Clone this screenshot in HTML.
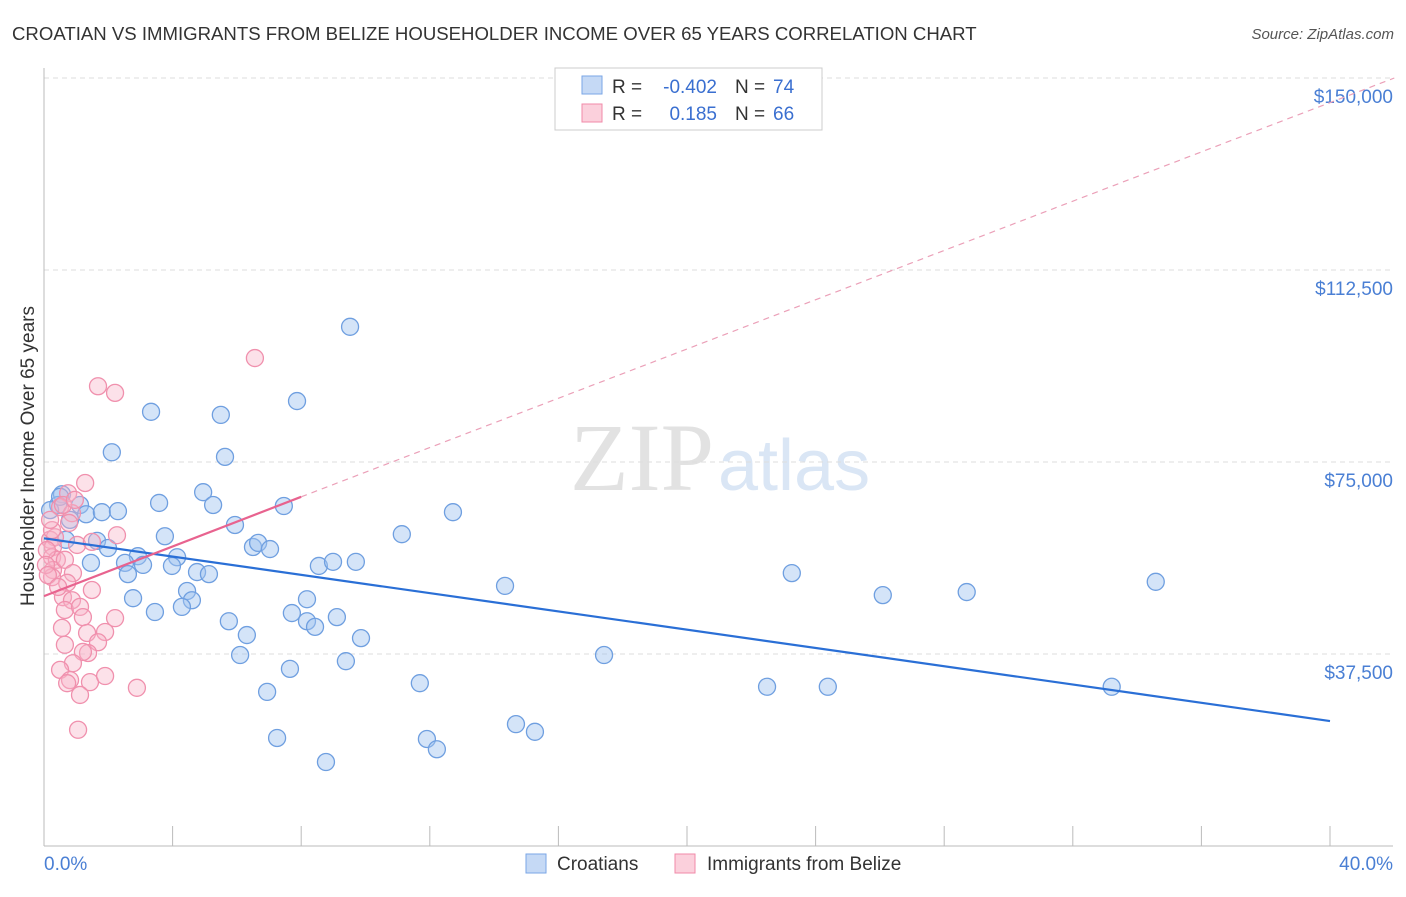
<!DOCTYPE html>
<html><head><meta charset="utf-8"><style>
body{margin:0;background:#fff;font-family:"Liberation Sans",sans-serif}
</style></head><body>
<svg width="1406" height="892" xmlns="http://www.w3.org/2000/svg" id="svg" font-family="Liberation Sans, sans-serif">
<text x="12" y="40" font-size="18.6" fill="#333">CROATIAN VS IMMIGRANTS FROM BELIZE HOUSEHOLDER INCOME OVER 65 YEARS CORRELATION CHART</text>
<text x="1394" y="39" font-size="15" fill="#555" text-anchor="end" font-style="italic">Source: ZipAtlas.com</text>
<text x="714" y="490" font-size="96" text-anchor="end" fill="#e2e2e2" font-family="Liberation Serif, serif">ZIP</text>
<text x="718" y="490" font-size="72" fill="#dae6f5">atlas</text>
<g id="grid"></g>
<line x1="44" y1="68" x2="44" y2="846" stroke="#bbb"/>
<line x1="44" y1="846" x2="1393" y2="846" stroke="#bbb"/>
<g id="ticks"></g>
<text transform="translate(34,456) rotate(-90)" font-size="19" fill="#333" text-anchor="middle">Householder Income Over 65 years</text>
<text x="44" y="870" font-size="19" fill="#4a7fd4">0.0%</text>
<text x="1393" y="870" font-size="19" fill="#4a7fd4" text-anchor="end">40.0%</text>
<g id="pts"></g>
<g id="lines"></g>
<g>
<rect x="555" y="68" width="267" height="62" fill="#fff" stroke="#ccc"/>
<rect x="582" y="76" width="20" height="18" fill="#c5d9f5" stroke="#7aa6e6"/>
<rect x="582" y="104" width="20" height="18" fill="#fbd0dc" stroke="#f08aa8"/>
<text x="612" y="93" font-size="19" fill="#333">R =</text>
<text x="717" y="93" font-size="19" fill="#3a6fd0" text-anchor="end">-0.402</text>
<text x="735" y="93" font-size="19" fill="#333">N =</text>
<text x="773" y="93" font-size="19" fill="#3a6fd0">74</text>
<text x="612" y="120" font-size="19" fill="#333">R =</text>
<text x="717" y="120" font-size="19" fill="#3a6fd0" text-anchor="end">0.185</text>
<text x="735" y="120" font-size="19" fill="#333">N =</text>
<text x="773" y="120" font-size="19" fill="#3a6fd0">66</text>
</g>
<g>
<rect x="526" y="854" width="20" height="19" fill="#c5d9f5" stroke="#7aa6e6"/>
<text x="557" y="870" font-size="19" fill="#333">Croatians</text>
<rect x="675" y="854" width="20" height="19" fill="#fbd0dc" stroke="#f08aa8"/>
<text x="707" y="870" font-size="19" fill="#333">Immigrants from Belize</text>
</g>
</svg>
<script>
const yTicks=[37.5,75,112.5,150];
const yTickLabels=["$37,500","$75,000","$112,500","$150,000"];
const xTicks=[0,4,8,12,16,20,24,28,32,36,40];
const blueX=[3.33,5.5,7.87,9.52,2.11,5.63,3.58,4.95,5.26,0.56,1.12,1.31,1.8,2.3,0.81,5.94,7.46,12.72,11.13,3.76,1.65,1.99,6.5,6.66,7.03,2.92,2.52,3.08,4.14,3.98,1.46,4.76,5.13,2.61,8.55,8.99,9.7,14.34,23.26,34.58,26.09,28.7,2.77,4.45,4.6,3.45,4.29,8.18,7.71,5.75,8.18,8.43,9.11,9.86,6.31,6.1,7.65,9.39,17.42,11.69,6.94,22.49,24.38,33.21,14.68,15.27,11.91,12.22,7.25,8.77,0.44,0.5,0.19,0.68];
const blueY=[84.8,84.2,86.9,101.4,76.9,76,67,69.1,66.6,68.7,66.6,64.8,65.2,65.4,63.7,62.7,66.4,65.2,60.9,60.5,59.6,58.2,58.4,59.2,58,56.6,55.3,54.9,56.4,54.7,55.3,53.5,53.1,53.1,54.7,55.5,55.5,50.8,53.3,51.6,49,49.6,48.4,49.8,48,45.7,46.7,48.2,45.5,43.9,43.9,42.8,44.7,40.6,41.2,37.3,34.6,36.1,37.3,31.8,30.1,31.1,31.1,31.1,23.8,22.3,20.9,18.9,21.1,16.4,66.6,68.2,65.6,59.8];
const pinkX=[6.56,1.68,2.21,1.28,0.75,0.5,0.87,0.78,0.19,0.34,0.28,0.25,0.4,0.28,0.25,2.27,1.03,1.49,0.65,0.9,0.72,1.49,0.59,0.87,0.65,1.12,1.21,2.21,0.56,1.34,1.9,1.68,0.65,1.37,1.21,0.9,0.5,0.81,0.72,1.43,1.9,1.12,2.89,1.06,0.25,0.09,0.06,0.12,0.44,0.19,0.59,0.96];
const pinkY=[95.3,89.8,88.5,70.9,68.9,66.2,65,63.1,59.8,60.3,58.4,56.4,55.9,53.9,52.5,60.7,58.8,59.4,55.9,53.3,51.4,50,48.6,48,46.1,46.7,44.7,44.5,42.6,41.6,41.8,39.8,39.3,37.7,37.9,35.7,34.4,32.4,31.8,32,33.2,29.5,30.9,22.7,61.7,57.8,54.9,52.9,50.6,63.7,66.6,67.6];
const blueLine=[[0,60.1],[40,24.4]];
const pinkSolid=[[0,48.8],[8,68.2]];
const pinkDash=[[8,68.2],[42,150]];
const X=p=>44+p/40*1286, Y=v=>846-v/37.5*192;
const NS="http://www.w3.org/2000/svg";
function mk(t,a,p){const e=document.createElementNS(NS,t);for(const k in a)e.setAttribute(k,a[k]);p.appendChild(e);return e;}
const grid=document.getElementById('grid'),ticks=document.getElementById('ticks'),pts=document.getElementById('pts'),lines=document.getElementById('lines');
yTicks.forEach((v,i)=>{const l=mk('line',{x1:44,x2:1393,y1:Y(v),y2:Y(v),stroke:'#ddd','stroke-dasharray':'5,4'},grid);


const t=mk('text',{x:1393,y:Y(v)+25,'font-size':19,fill:'#4a7fd4','text-anchor':'end'},ticks);t.textContent=yTickLabels[i];

});
xTicks.forEach(p=>{const l=mk('line',{x1:X(p),x2:X(p),y1:826,y2:846,stroke:'#bbb'},ticks);

});
blueX.forEach((x,i)=>{const c=mk('circle',{cx:X(x),cy:Y(blueY[i]),r:8.5,fill:'rgba(160,195,240,0.45)',stroke:'#6f9fe0','stroke-width':1.3},pts);

});
pinkX.forEach((x,i)=>{const c=mk('circle',{cx:X(x),cy:Y(pinkY[i]),r:8.5,fill:'rgba(248,180,200,0.4)',stroke:'#f090ad','stroke-width':1.3},pts);

});
function ln(d,st,w,dash,name){const l=mk('line',{x1:X(d[0][0]),y1:Y(d[0][1]),x2:X(d[1][0]),y2:Y(d[1][1]),stroke:st,'stroke-width':w},lines);if(dash)l.setAttribute('stroke-dasharray',dash);

}
ln(blueLine,'#2a6fd6',2.2,null,'croatian-trend-line');
ln(pinkSolid,'#e8638f',2.2,null,'belize-trend-line');
ln(pinkDash,'#eba0b8',1.2,'6,5','belize-trend-extension');
</script>
</body></html>
